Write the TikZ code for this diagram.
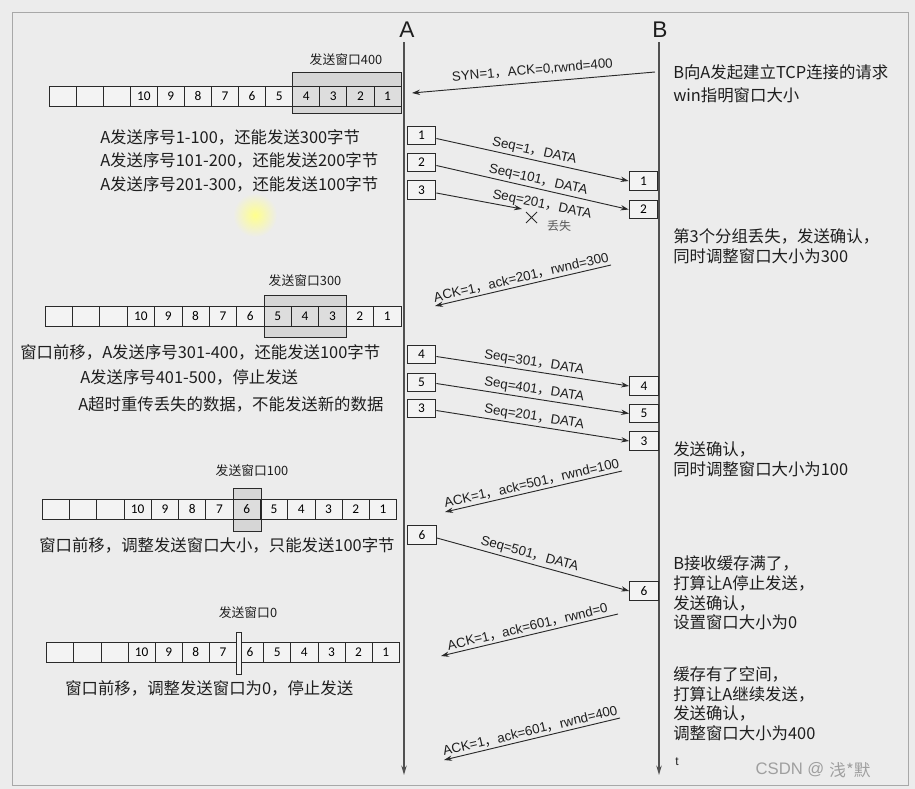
\documentclass[tikz,border=0pt]{standalone}
\usepackage{fontspec}
\setmainfont{Noto Sans CJK SC}
\newfontfamily\numfont{Carlito}
\newfontfamily\arialfont{Liberation Sans}
\newcommand\lt[1]{{\arialfont #1}}
\usetikzlibrary{arrows.meta}
\definecolor{bgc}{HTML}{ECECEC}
\definecolor{ink}{HTML}{1E1E1E}
\definecolor{linec}{HTML}{2A2A2A}
\definecolor{lifec}{HTML}{505050}
\definecolor{cellbg}{HTML}{F3F3F3}
\definecolor{framec}{HTML}{A8A8A8}
\newcommand\cellrow[4]{%
  \foreach \i in {0,...,12}{%
    \node[cellbox, minimum width={#2*0.75pt}] (#4-\i) at ({#1+(\i+0.5)*#2},{#3+10}) {\ifnum\i>2 \number\numexpr13-\i\relax\fi};
  }}
\begin{document}
\begin{tikzpicture}[x=0.75pt,y=-0.75pt,
  txt/.style={font=\fontsize{12.3}{14}\selectfont, text=ink, inner sep=0pt, anchor=west},
  lbl/.style={font=\fontsize{10}{11.5}\selectfont, text=ink, inner sep=1.5pt},
  winlbl/.style={font=\fontsize{9.6}{11}\selectfont, text=ink, inner sep=0pt},
  pkt/.style={draw=linec, line width=0.8pt, fill=cellbg, minimum width=21.5pt, minimum height=14pt, inner sep=0pt, font=\numfont\fontsize{10}{12}\selectfont},
  cellbox/.style={draw=linec, line width=0.6pt, fill=cellbg, inner sep=0pt, minimum height=15pt, font=\numfont\fontsize{10}{12}\selectfont},
  winbox/.style={draw=linec, line width=0.7pt, fill=black, fill opacity=0.09},
  msg/.style={draw=linec, line width=0.7pt, -{Stealth[length=6pt,width=4pt]}},
  life/.style={draw=lifec, line width=1.2pt, -{Stealth[length=7pt,width=4pt]}}
]
\path[use as bounding box, fill=bgc] (0,0) rectangle (915,789);
\draw[framec, line width=0.6pt] (12,12) rectangle (908,785);

% cursor glow
\shade[inner color=yellow!45, outer color=bgc] (255,215) circle (22);

% lifelines
\node[font=\arialfont\fontsize{17}{20}\selectfont, text=ink] (A) at (407,30) {A};
\node[font=\arialfont\fontsize{17}{20}\selectfont, text=ink] (B) at (660,30) {B};
\coordinate (Atop) at (404,42); \coordinate (Abot) at (404,775);
\coordinate (Btop) at (659,42); \coordinate (Bbot) at (659,775);
\draw[life] (Atop) -- (Abot);
\draw[life] (Btop) -- (Bbot);

% ---------- row 1 ----------
\cellrow{49}{27.08}{86}{ra}
\draw[winbox] (292,72) rectangle (401,113);
\node[winlbl] (w1) at (346,60) {发送窗口400};

% ---------- row 2 ----------
\cellrow{45}{27.38}{306}{rb}
\draw[winbox] (264,295) rectangle (346,337);
\node[winlbl] (w2) at (305,281) {发送窗口300};

% ---------- row 3 ----------
\cellrow{42.3}{27.26}{499}{rc}
\draw[winbox] (233.3,488) rectangle (261,531);
\node[winlbl] (w3) at (252,471) {发送窗口100};

% ---------- row 4 ----------
\cellrow{46.7}{27.12}{642}{rd}
\draw[draw=linec, line width=0.7pt, fill=cellbg] (236,632) rectangle (241.5,674);
\node[winlbl] (w4) at (248,613) {发送窗口0};

% ---------- left texts ----------
\node[txt] (l1) at (100,137) {A发送序号1-100，还能发送300字节};
\node[txt] (l2) at (100,160) {A发送序号101-200，还能发送200字节};
\node[txt] (l3) at (100,184) {A发送序号201-300，还能发送100字节};
\node[txt] (l4) at (20,352) {窗口前移，A发送序号301-400，还能发送100字节};
\node[txt] (l5) at (80,377) {A发送序号401-500，停止发送};
\node[txt] (l6) at (78,404) {A超时重传丢失的数据，不能发送新的数据};
\node[txt] (l7) at (39,545) {窗口前移，调整发送窗口大小，只能发送100字节};
\node[txt] (l8) at (65,688) {窗口前移，调整发送窗口为0，停止发送};

% ---------- right texts ----------
\node[txt] (r1) at (673,72) {B向A发起建立TCP连接的请求};
\node[txt] (r2) at (673,95) {win指明窗口大小};
\node[txt] (r3) at (673,236) {第3个分组丢失，发送确认，};
\node[txt] (r4) at (673,256) {同时调整窗口大小为300};
\node[txt] (r5) at (673,449) {发送确认，};
\node[txt] (r6) at (673,469) {同时调整窗口大小为100};
\node[txt] (r7) at (673,563) {B接收缓存满了，};
\node[txt] (r8) at (673,583) {打算让A停止发送，};
\node[txt] (r9) at (673,603) {发送确认，};
\node[txt] (r10) at (673,622) {设置窗口大小为0};
\node[txt] (r11) at (673,674) {缓存有了空间，};
\node[txt] (r12) at (673,694) {打算让A继续发送，};
\node[txt] (r13) at (673,713) {发送确认，};
\node[txt] (r14) at (673,733) {调整窗口大小为400};
\node[font=\arialfont\fontsize{9}{10}\selectfont, text=ink] (tlab) at (677,762) {t};
\node[font=\arialfont\fontsize{12.5}{14}\selectfont, text=gray!75] (wm) at (790,770) {CSDN @};
\node[font=\fontsize{12.5}{14}\selectfont, text=gray!75, anchor=west, inner sep=0pt] (wm2) at (wm.east) {浅*默};

% ---------- SYN ----------
\coordinate (synS) at (655,72);
\coordinate (synE) at (412,93);
\draw[msg] (synS) -- node[lbl, sloped, above, yshift=3pt] {\lt{SYN=1}，\lt{ACK=0,rwnd=400}} (synE);

% ---------- packets 1,2,3 ----------
\node[pkt] (a1) at (421.5,135.5) {1};
\node[pkt] (a2) at (421.5,162.5) {2};
\node[pkt] (a3) at (421.5,190) {3};
\node[pkt] (b1) at (643.5,181) {1};
\node[pkt] (b2) at (643.5,209.5) {2};
\draw[msg] (a1.east) ++(0,3) coordinate (a1o) (a1o) -- node[lbl, sloped, above] {\lt{Seq=1}，\lt{DATA}} (b1.west);
\draw[msg] (a2.east) ++(0,3) coordinate (a2o) (a2o) -- node[lbl, sloped, above, pos=0.52] {\lt{Seq=101}，\lt{DATA}} (b2.west);
\coordinate (lost) at (522,209);
\draw[msg] (a3.east) ++(0,3) coordinate (a3o) (a3o) -- (lost);
\node[lbl, rotate=-11.5] (s201) at (542,205) {\lt{Seq=201}，\lt{DATA}};
\coordinate (x1) at (526,212); \coordinate (x2) at (537,223);
\coordinate (x3) at (526,223); \coordinate (x4) at (537,212);
\draw[linec, line width=0.7pt] (x1) -- (x2) (x3) -- (x4);
\node[font=\fontsize{9}{10}\selectfont, text=gray!70!black] (lostlbl) at (559,226) {丢失};

% ---------- ACK 201 ----------
\coordinate (k1S) at (611,265);
\coordinate (k1E) at (435,306);
\draw[msg] (k1S) -- node[lbl, sloped, above] {\lt{ACK=1}，\lt{ack=201}，\lt{rwnd=300}} (k1E);

% ---------- packets 4,5,3 ----------
\node[pkt] (a4) at (421.5,354.5) {4};
\node[pkt] (a5) at (421.5,382.5) {5};
\node[pkt] (a6) at (421.5,408.5) {3};
\node[pkt] (b4) at (644,386) {4};
\node[pkt] (b5) at (644,413.5) {5};
\node[pkt] (b6) at (644,441) {3};
\draw[msg] (a4.east) ++(0,2) coordinate (a4o) (a4o) -- node[lbl, sloped, above] {\lt{Seq=301}，\lt{DATA}} (b4.west);
\draw[msg] (a5.east) ++(0,1) coordinate (a5o) (a5o) -- node[lbl, sloped, above] {\lt{Seq=401}，\lt{DATA}} (b5.west);
\draw[msg] (a6.east) ++(0,2) coordinate (a6o) (a6o) -- node[lbl, sloped, above] {\lt{Seq=201}，\lt{DATA}} (b6.west);

% ---------- ACK 501 ----------
\coordinate (k2S) at (622,471);
\coordinate (k2E) at (445,512);
\draw[msg] (k2S) -- node[lbl, sloped, above] {\lt{ACK=1}，\lt{ack=501}，\lt{rwnd=100}} (k2E);

% ---------- packet 6 ----------
\node[pkt] (a7) at (422,535) {6};
\node[pkt] (b7) at (644,591) {6};
\draw[msg] (a7.east) ++(0,3) coordinate (a7o) (a7o) -- node[lbl, sloped, above, pos=0.47] {\lt{Seq=501}，\lt{DATA}} (b7.west);

% ---------- ACK 601 / 0 ----------
\coordinate (k3S) at (618,614);
\coordinate (k3E) at (441,656);
\draw[msg] (k3S) -- node[lbl, sloped, above] {\lt{ACK=1}，\lt{ack=601}，\lt{rwnd=0}} (k3E);

% ---------- ACK 601 / 400 ----------
\coordinate (k4S) at (620,718);
\coordinate (k4E) at (444,760);
\draw[msg] (k4S) -- node[lbl, sloped, above] {\lt{ACK=1}，\lt{ack=601}，\lt{rwnd=400}} (k4E);
\end{tikzpicture}
\end{document}
